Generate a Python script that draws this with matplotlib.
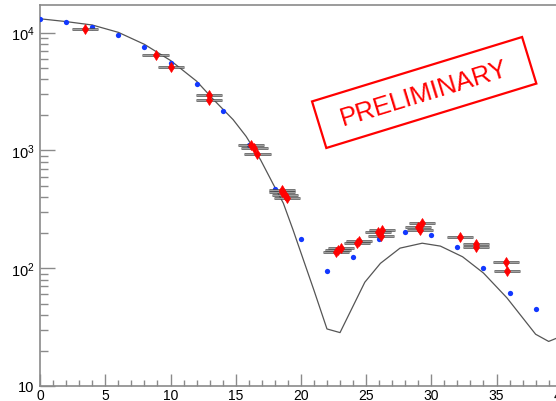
import matplotlib
matplotlib.use("Agg")
import matplotlib.pyplot as plt
import matplotlib.transforms as mtransforms
from matplotlib.patches import Rectangle
from matplotlib.ticker import FixedLocator, MultipleLocator, NullFormatter
import numpy as np

plt.rcParams['font.family'] = ['Liberation Sans', 'DejaVu Sans']
plt.rcParams['mathtext.fontset'] = 'custom'
plt.rcParams['mathtext.rm'] = 'Liberation Sans'
plt.rcParams['mathtext.it'] = 'Liberation Sans:italic'
plt.rcParams['mathtext.bf'] = 'Liberation Sans:bold'

# Model curve
curve_x = [0, 2, 4, 6, 8, 10, 12, 13.3, 14.8, 15.8, 16.9, 17.9, 18.65, 19.4,
           20.2, 21.0, 22.0, 23.0, 24.9, 26.1, 27.6, 29.3, 30.7, 32.4, 34.0,
           35.8, 38.0, 39.0, 40.0]
curve_y = [13100, 12400, 11600, 10050, 7950, 5800, 3870, 2700, 1825, 1315,
           834, 511, 357, 211, 117, 65, 30.5, 28.4, 76, 110, 148, 163, 154,
           125, 91, 56, 27.5, 23.9, 26.5]

# Reference points (blue)
blue_x = [0, 2, 4, 6, 8, 10, 12, 14, 16, 18, 20, 22, 24, 26, 28, 30, 32, 34, 36, 38]
blue_y = [12980, 12240, 11160, 9540, 7540, 5510, 3630, 2150, 1104, 472,
          176, 95, 124, 176, 204, 190, 151, 101, 61, 45]

# Measured points (red) with bin half-widths
red_x = [3.42, 8.85, 10.05, 12.93, 12.95, 16.2, 16.44, 16.67,
         18.57, 18.53, 18.78, 18.96, 22.69, 22.88, 23.07, 24.28, 24.48,
         25.94, 26.24, 26.12, 29.26, 28.98, 29.13, 32.2, 33.4, 33.45,
         35.7, 35.82]
red_y = [10730, 6440, 5130, 2926, 2704, 1119, 1047, 931,
         462, 442, 420, 393, 137, 142.6, 148, 164, 169,
         204, 209, 188, 244, 222, 211, 183, 160, 152,
         112, 95]
red_xerr = [1.0] * len(red_x)
red_rel_err = 0.05

y_ticks = [10, 100, 1000, 10000]
y_ticklabels = ['10', '$10^{2}$', '$10^{3}$', '$10^{4}$']
x_ticks = [0, 5, 10, 15, 20, 25, 30, 35, 40]

W, H, DPI = 556, 402, 100
fig = plt.figure(figsize=(W / DPI, H / DPI), dpi=DPI)
fig.patch.set_facecolor('white')

ax_left, ax_right, ax_top, ax_bottom = 40.1, 561.7, 6, 387
ax = fig.add_axes([ax_left / W, (H - ax_bottom) / H,
                   (ax_right - ax_left) / W, (ax_bottom - ax_top) / H])
ax.set_xlim(0, 40)
ax.set_yscale('log')
ax.set_ylim(10, 10 ** (1 + (ax_bottom - ax_top) / 117.8))

axis_grey = '#8a8a8a'
for side in ['left', 'bottom', 'top']:
    ax.spines[side].set_color(axis_grey)
    ax.spines[side].set_linewidth(1.2)
ax.spines['right'].set_visible(False)

ax.plot(curve_x, curve_y, color='#555555', lw=0.9, zorder=2)

ax.plot(blue_x, blue_y, 'o', color='#1238ff', ms=3.8, mec='none', zorder=3)

red_x_a = np.array(red_x)
red_y_a = np.array(red_y)
xlo = red_x_a - np.array(red_xerr)
xhi = red_x_a + np.array(red_xerr)
ax.hlines(red_y_a, xlo, xhi, colors='#4a4a4a', lw=1.8, zorder=4)
ax.hlines(red_y_a, xlo, xhi, colors='#b0b0b0', lw=0.6, zorder=4)
ax.errorbar(red_x_a, red_y_a, yerr=red_rel_err * red_y_a, fmt='none',
            ecolor='#222222', elinewidth=0.9, capsize=0, zorder=5)
ax.plot(red_x_a, red_y_a, 'd', color='#ff0000', ms=4.6, mec='#ff0000',
        mew=0.5, zorder=6)

ax.xaxis.set_major_locator(FixedLocator(x_ticks))
ax.xaxis.set_minor_locator(MultipleLocator(1))
ax.set_xticklabels([str(v) for v in x_ticks])
ax.yaxis.set_major_locator(FixedLocator(y_ticks))
ax.set_yticklabels(y_ticklabels)
minor_y = [m * 10 ** e for e in range(1, 5) for m in range(2, 10)]
ax.yaxis.set_minor_locator(FixedLocator(minor_y))
ax.yaxis.set_minor_formatter(NullFormatter())

ax.tick_params(axis='x', which='major', direction='in', length=8.8, width=1.0,
               color=axis_grey, labelsize=10, pad=1.5, top=False)
ax.tick_params(axis='x', which='minor', direction='in', length=4.4, width=1.0,
               color=axis_grey, top=False)
ax.tick_params(axis='y', which='major', direction='in', length=10.8, width=1.0,
               color=axis_grey, labelsize=10.5, pad=4, right=False)
ax.tick_params(axis='y', which='minor', direction='in', length=5.8, width=1.0,
               color=axis_grey, right=False)

# Rotated "PRELIMINARY" stamp, laid out in pixel units
cx, cy = 424.2, H - 93.5
angle = 17.05
bw, bh = 219.7, 48.7
stamp_tr = (mtransforms.Affine2D().rotate_deg_around(cx, cy, angle)
            .scale(1 / DPI) + fig.dpi_scale_trans)
fig.add_artist(Rectangle((cx - bw / 2, cy - bh / 2), bw, bh, transform=stamp_tr,
                         fill=False, ec='#ff0000', lw=1.6))
fig.text(cx / W, cy / H, 'PRELIMINARY', color='#ff0000', fontsize=18.5,
         rotation=angle, rotation_mode='anchor', ha='center', va='center')

fig.savefig('out.png', dpi=DPI, facecolor='white')
